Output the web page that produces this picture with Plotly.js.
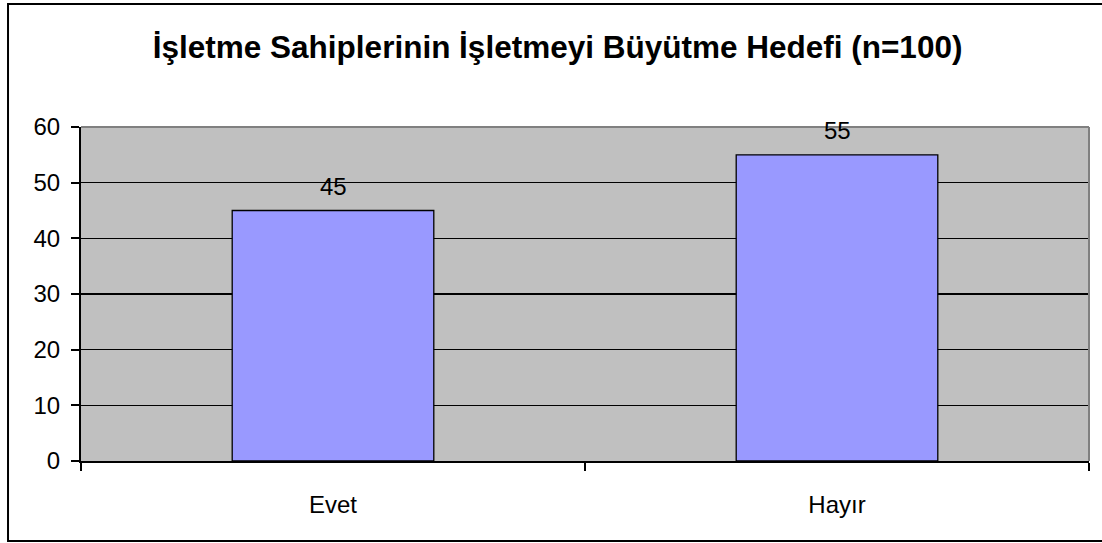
<!DOCTYPE html>
<html>
<head>
<meta charset="utf-8">
<script src="https://cdn.plot.ly/plotly-3.0.1.min.js"></script>
<style>
html,body{margin:0;padding:0;background:#fff;}
#chart{width:1102px;height:543px;}
</style>
</head>
<body>
<div id="chart"></div>
<script>
const categories = ["Evet", "Hayır"];
const values = [45, 55];
const yTicks = [0, 10, 20, 30, 40, 50, 60];
const chartTitle = "İşletme Sahiplerinin İşletmeyi Büyütme Hedefi (n=100)";

const FONT = "Liberation Sans, Arial, sans-serif";

const trace = {
  type: "bar",
  x: categories,
  y: values,
  width: 0.4,
  marker: {color: "#9999FF", line: {color: "#000000", width: 1.3}},
  hoverinfo: "none"
};

const annotations = categories.map((c, i) => ({
  x: c, y: values[i], xref: "x", yref: "y",
  text: String(values[i]), showarrow: false,
  yshift: 24, font: {family: FONT, size: 24, color: "#000"}
}));

const layout = {
  width: 1102, height: 543,
  margin: {l: 81, r: 13, t: 127, b: 82, pad: 0},
  paper_bgcolor: "#ffffff",
  plot_bgcolor: "#C0C0C0",
  showlegend: false,
  title: {
    text: "<b>" + chartTitle + "</b>",
    font: {family: FONT, size: 31.5, color: "#000"},
    x: 0.506, xanchor: "center", y: 0.913, yanchor: "middle"
  },
  xaxis: {
    type: "category",
    range: [-0.5, 1.5],
    showgrid: false,
    showline: true, linecolor: "#000", linewidth: 2,
    ticks: "outside", ticklen: 8, tickwidth: 2, tickcolor: "#000",
    tickson: "boundaries",
    ticklabelstandoff: 21,
    tickfont: {family: FONT, size: 24, color: "#000"},
    zeroline: false,
    fixedrange: true
  },
  yaxis: {
    range: [0, 60],
    tickvals: yTicks,
    ticktext: yTicks.map(String),
    showgrid: true, gridcolor: "#000", gridwidth: 1.5,
    showline: true, linecolor: "#000", linewidth: 2,
    ticks: "outside", ticklen: 8, tickwidth: 2, tickcolor: "#000",
    ticklabelstandoff: 6,
    tickfont: {family: FONT, size: 24, color: "#000"},
    zeroline: false,
    fixedrange: true
  },
  annotations: annotations,
  shapes: [
    {type: "line", xref: "paper", yref: "paper", x0: 0, x1: 1, y0: 1, y1: 1,
     line: {color: "#808080", width: 2}, layer: "above"},
    {type: "line", xref: "paper", yref: "paper", x0: 1, x1: 1, y0: 0, y1: 1,
     line: {color: "#808080", width: 2}, layer: "above"},
    {type: "rect", xref: "paper", yref: "paper",
     x0: -0.0724, x1: 1.02, y0: -0.2395, y1: 1.368,
     line: {color: "#000", width: 2}, fillcolor: "rgba(0,0,0,0)", layer: "above"}
  ]
};

Plotly.newPlot("chart", [trace], layout, {displayModeBar: false, staticPlot: true});
</script>
</body>
</html>
